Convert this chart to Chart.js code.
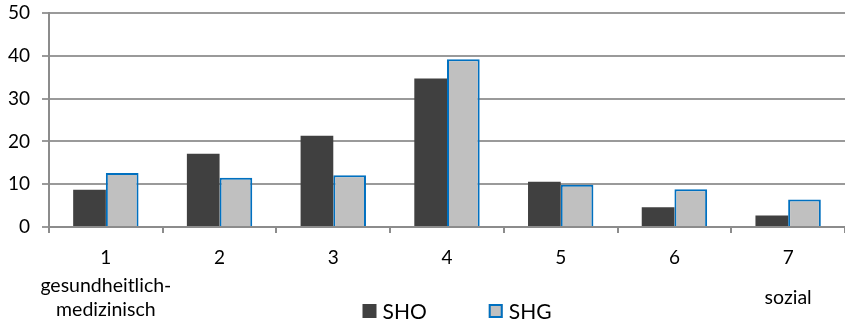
<!DOCTYPE html>
<html>
<head>
<meta charset="utf-8">
<script src="https://cdn.jsdelivr.net/npm/chart.js@4/dist/chart.umd.min.js"></script>
<style>
  html, body { margin: 0; padding: 0; background: #fff; }
  #wrap { width: 845px; height: 323px; position: relative; }
</style>
</head>
<body>
<div id="wrap"><canvas id="c" width="845" height="323"></canvas></div>
<script>
// Categories along the x axis and their descriptive captions
const categories = ["1", "2", "3", "4", "5", "6", "7"];
const captions = [["gesundheitlich-", "medizinisch"], [], [], [], [], [], ["sozial"]];

// Series values
const seriesNames = ["SHO", "SHG"];
const shoValues = [8.7, 17.1, 21.3, 34.7, 10.6, 4.6, 2.7];
const shgValues = [12.6, 11.5, 12.1, 39.2, 9.9, 8.8, 6.4];

// Y axis ticks
const yTicks = [0, 10, 20, 30, 40, 50];

const FONT = "Lato, 'Open Sans', sans-serif";

// Captions below selected category labels
const captionPlugin = {
  id: 'captions',
  afterDraw(chart) {
    const ctx = chart.ctx;
    const x = chart.scales.x;
    ctx.save();
    ctx.font = "19.5px " + FONT;
    ctx.fillStyle = "#000";
    ctx.textAlign = "center";
    ctx.textBaseline = "alphabetic";
    const lineH = 24;
    const centerBase = 304;
    captions.forEach((lines, i) => {
      if (!lines.length) return;
      const cx = x.getPixelForValue(i);
      const first = centerBase - (lines.length - 1) * lineH / 2;
      lines.forEach((t, k) => ctx.fillText(t, cx, first + k * lineH));
    });
    ctx.restore();
  }
};

// Legend drawn in the bottom band
const legendPlugin = {
  id: 'bottomLegend',
  afterDraw(chart) {
    const ctx = chart.ctx;
    ctx.save();
    ctx.font = "21px " + FONT;
    ctx.textBaseline = "middle";
    ctx.textAlign = "left";
    const box = 14, gapText = 6, gapItem = 62;
    const items = chart.data.datasets.map(ds => ({
      label: ds.label, fill: ds.backgroundColor, stroke: ds.borderColor, bw: ds.borderWidth,
      w: box + gapText + ctx.measureText(ds.label).width
    }));
    const total = items.reduce((s, it) => s + it.w, 0) + gapItem * (items.length - 1);
    const cy = 311;
    let xPos = 457 - total / 2;
    items.forEach(it => {
      ctx.fillStyle = it.fill;
      ctx.fillRect(xPos, cy - box / 2, box, box);
      if (it.bw) {
        ctx.strokeStyle = it.stroke;
        ctx.lineWidth = 2;
        ctx.strokeRect(xPos + 1, cy - box / 2 + 1, box - 2, box - 2);
      }
      ctx.fillStyle = "#000";
      ctx.fillText(it.label, xPos + box + gapText, cy + 1);
      xPos += it.w + gapItem;
    });
    ctx.restore();
  }
};

new Chart(document.getElementById('c'), {
  type: 'bar',
  data: {
    labels: categories,
    datasets: [
      {
        label: seriesNames[0],
        data: shoValues,
        backgroundColor: '#404040',
        borderColor: '#404040',
        borderWidth: 0,
        categoryPercentage: 0.575,
        barPercentage: 1.0
      },
      {
        label: seriesNames[1],
        data: shgValues,
        backgroundColor: '#C0C0C0',
        borderColor: '#0070C0',
        borderWidth: 2,
        categoryPercentage: 0.575,
        barPercentage: 1.0
      }
    ]
  },
  options: {
    responsive: false,
    animation: false,
    devicePixelRatio: 1,
    layout: { padding: { top: 13, right: 0, left: 0, bottom: 0 } },
    plugins: {
      legend: { display: false },
      tooltip: { enabled: false },
      title: { display: false }
    },
    scales: {
      x: {
        offset: true,
        grid: {
          offset: true,
          drawOnChartArea: false,
          drawTicks: true,
          tickLength: 6,
          color: '#8c8c8c',
          lineWidth: 2
        },
        border: { display: true, color: '#8c8c8c', width: 2 },
        ticks: {
          font: { family: FONT, size: 19 },
          color: '#000',
          padding: 13,
          maxRotation: 0
        },
        afterFit(scale) {
          scale.height = 96;
          scale.paddingLeft = 0;
          scale.paddingRight = 0;
        }
      },
      y: {
        min: 0,
        max: 50,
        afterBuildTicks(scale) { scale.ticks = yTicks.map(v => ({ value: v })); },
        grid: {
          color: '#9a9a9a',
          lineWidth: 2,
          drawTicks: true,
          tickLength: 7
        },
        border: { display: true, color: '#8c8c8c', width: 2 },
        ticks: {
          font: { family: FONT, size: 19 },
          color: '#000',
          padding: 12
        },
        afterFit(scale) {
          scale.width = 49;
          scale.paddingTop = 0;
          scale.paddingBottom = 0;
        }
      }
    }
  },
  plugins: [captionPlugin, legendPlugin]
});
</script>
</body>
</html>
